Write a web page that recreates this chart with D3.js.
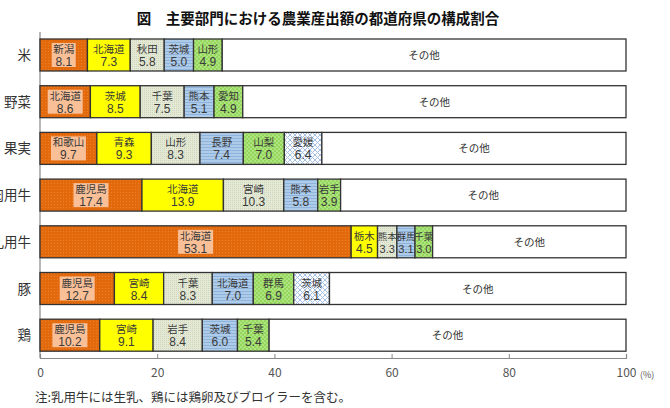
<!DOCTYPE html>
<html><head><meta charset="utf-8">
<script src="https://cdn.jsdelivr.net/npm/d3@7"></script>
<style>
body{margin:0;background:#fff;}
svg{display:block;font-family:"Noto Sans CJK JP","Noto Sans",sans-serif;}
</style></head>
<body><svg id="c" width="670" height="408"></svg>
<script>
const categories = ["米","野菜","果実","肉用牛","乳用牛","豚","鶏"];
const prefNames = [
  ["新潟","北海道","秋田","茨城","山形"],
  ["北海道","茨城","千葉","熊本","愛知"],
  ["和歌山","青森","山形","長野","山梨","愛媛"],
  ["鹿児島","北海道","宮崎","熊本","岩手"],
  ["北海道","栃木","熊本","群馬","千葉"],
  ["鹿児島","宮崎","千葉","北海道","群馬","茨城"],
  ["鹿児島","宮崎","岩手","茨城","千葉"]
];
const shares = [
  [8.1,7.3,5.8,5.0,4.9],
  [8.6,8.5,7.5,5.1,4.9],
  [9.7,9.3,8.3,7.4,7.0,6.4],
  [17.4,13.9,10.3,5.8,3.9],
  [53.1,4.5,3.3,3.1,3.0],
  [12.7,8.4,8.3,7.0,6.9,6.1],
  [10.2,9.1,8.4,6.0,5.4]
];
const otherLabel = "その他";
const xTicks = [0,20,40,60,80,100];
const title = "図　主要部門における農業産出額の都道府県の構成割合";
const note = "注:乳用牛には生乳、鶏には鶏卵及びブロイラーを含む。";

const svg = d3.select("#c");
const defs = svg.append("defs");
function pat(id, w, h, base, draw){
  const p = defs.append("pattern").attr("id",id).attr("patternUnits","userSpaceOnUse").attr("width",w).attr("height",h);
  p.append("rect").attr("width",w).attr("height",h).attr("fill",base);
  draw(p);
}
pat("p0",3,3,"#e3690d",p=>p.append("rect").attr("x",0).attr("y",0).attr("width",1).attr("height",1).attr("fill","#ec7f2a"));
pat("p1",4,4,"#ffff00",p=>{});
pat("p2",2,2,"#e4e9d6",p=>p.append("rect").attr("width",1).attr("height",1).attr("fill","#cfd6bd"));
pat("p3",3,3,"#aecbea",p=>p.append("rect").attr("y",0).attr("width",3).attr("height",1).attr("fill","#8fb4dc"));
pat("p4",4,4,"#ade47f",p=>{p.append("rect").attr("width",2).attr("height",2).attr("fill","#95d65c");p.append("rect").attr("x",2).attr("y",2).attr("width",2).attr("height",2).attr("fill","#95d65c");});
pat("p5",5,5,"#ffffff",p=>{p.append("path").attr("d","M0,0L5,5M5,0L0,5").attr("stroke","#a8c2e6").attr("stroke-width",1);});
const fills = ["url(#p0)","url(#p1)","url(#p2)","url(#p3)","url(#p4)","url(#p5)"];

const x = d3.scaleLinear().domain([0,100]).range([40,626]);
const y = d3.scaleBand().domain(categories).range([32,358.2]).paddingInner(0.315).paddingOuter(0.15);

// title
svg.append("text").attr("x",318).attr("y",24).attr("text-anchor","middle")
  .attr("font-size",14.5).attr("font-weight","bold").attr("fill","#111").text(title);

// axes lines
svg.append("line").attr("x1",40).attr("x2",40).attr("y1",32).attr("y2",358).attr("stroke","#888").attr("stroke-width",1.2);
const xAxis = d3.axisBottom(x).tickValues(xTicks).tickSize(-4).tickPadding(13).tickFormat(d=>d);
const gx = svg.append("g").attr("transform","translate(0,358)").call(xAxis);
gx.select(".domain").attr("stroke","#888").attr("stroke-width",1.2);
gx.selectAll(".tick line").attr("stroke","#888");
gx.selectAll(".tick text").attr("font-size",12).attr("fill","#555").attr("font-family","Noto Sans CJK JP").attr("dy","0.5em");
svg.append("text").attr("x",x(100)+14).attr("y",378).attr("font-size",9).attr("fill","#555").text("(%)");

// category labels
svg.append("g").selectAll("text").data(categories).join("text")
  .attr("x",31).attr("y",d=>y(d)+y.bandwidth()/2+5).attr("text-anchor","end")
  .attr("font-size",13.5).attr("fill","#333").text(d=>d);

// bars
categories.forEach((cat,i)=>{
  const g = svg.append("g");
  const top = y(cat), h = y.bandwidth();
  let cum = 0;
  const segs = shares[i].map((v,j)=>{const s={v,name:prefNames[i][j],x0:cum,x1:cum+v,j}; cum+=v; return s;});
  segs.push({v:100-cum,name:otherLabel,x0:cum,x1:100,j:-1});
  g.selectAll("rect").data(segs).join("rect")
    .attr("x",d=>x(d.x0)).attr("y",top).attr("width",d=>x(d.x1)-x(d.x0)).attr("height",h)
    .attr("fill",d=>d.j<0?"#fff":fills[d.j]).attr("stroke","#333").attr("stroke-width",1.3);
  segs.forEach(d=>{
    const cx = (x(d.x0)+x(d.x1))/2;
    if(d.j<0){
      g.append("text").attr("x",cx).attr("y",top+h/2+4).attr("text-anchor","middle")
        .attr("font-size",10.5).attr("fill","#333").text(d.name);
      return;
    }
    if(d.j===0){
      const bw = Math.max(d.name.length*11, 22)+2;
      g.append("rect").attr("x",cx-bw/2).attr("y",top+4).attr("width",bw).attr("height",h-8).attr("fill","#f9c097");
    }
    const small = (x(d.x1)-x(d.x0))<22;
    g.append("text").attr("x",cx).attr("y",top+14).attr("text-anchor","middle")
      .attr("font-size",small?9.5:10.5).attr("fill","#3a3a3a").text(d.name);
    g.append("text").attr("x",cx).attr("y",top+27).attr("text-anchor","middle")
      .attr("font-size",small?11:12).attr("fill","#3a3a3a").attr("font-family","Liberation Sans, Arial, sans-serif").text(d.v.toFixed(1));
  });
});

svg.append("text").attr("x",35).attr("y",402).attr("font-size",12.5).attr("fill","#333").text(note);
</script>
</body></html>
